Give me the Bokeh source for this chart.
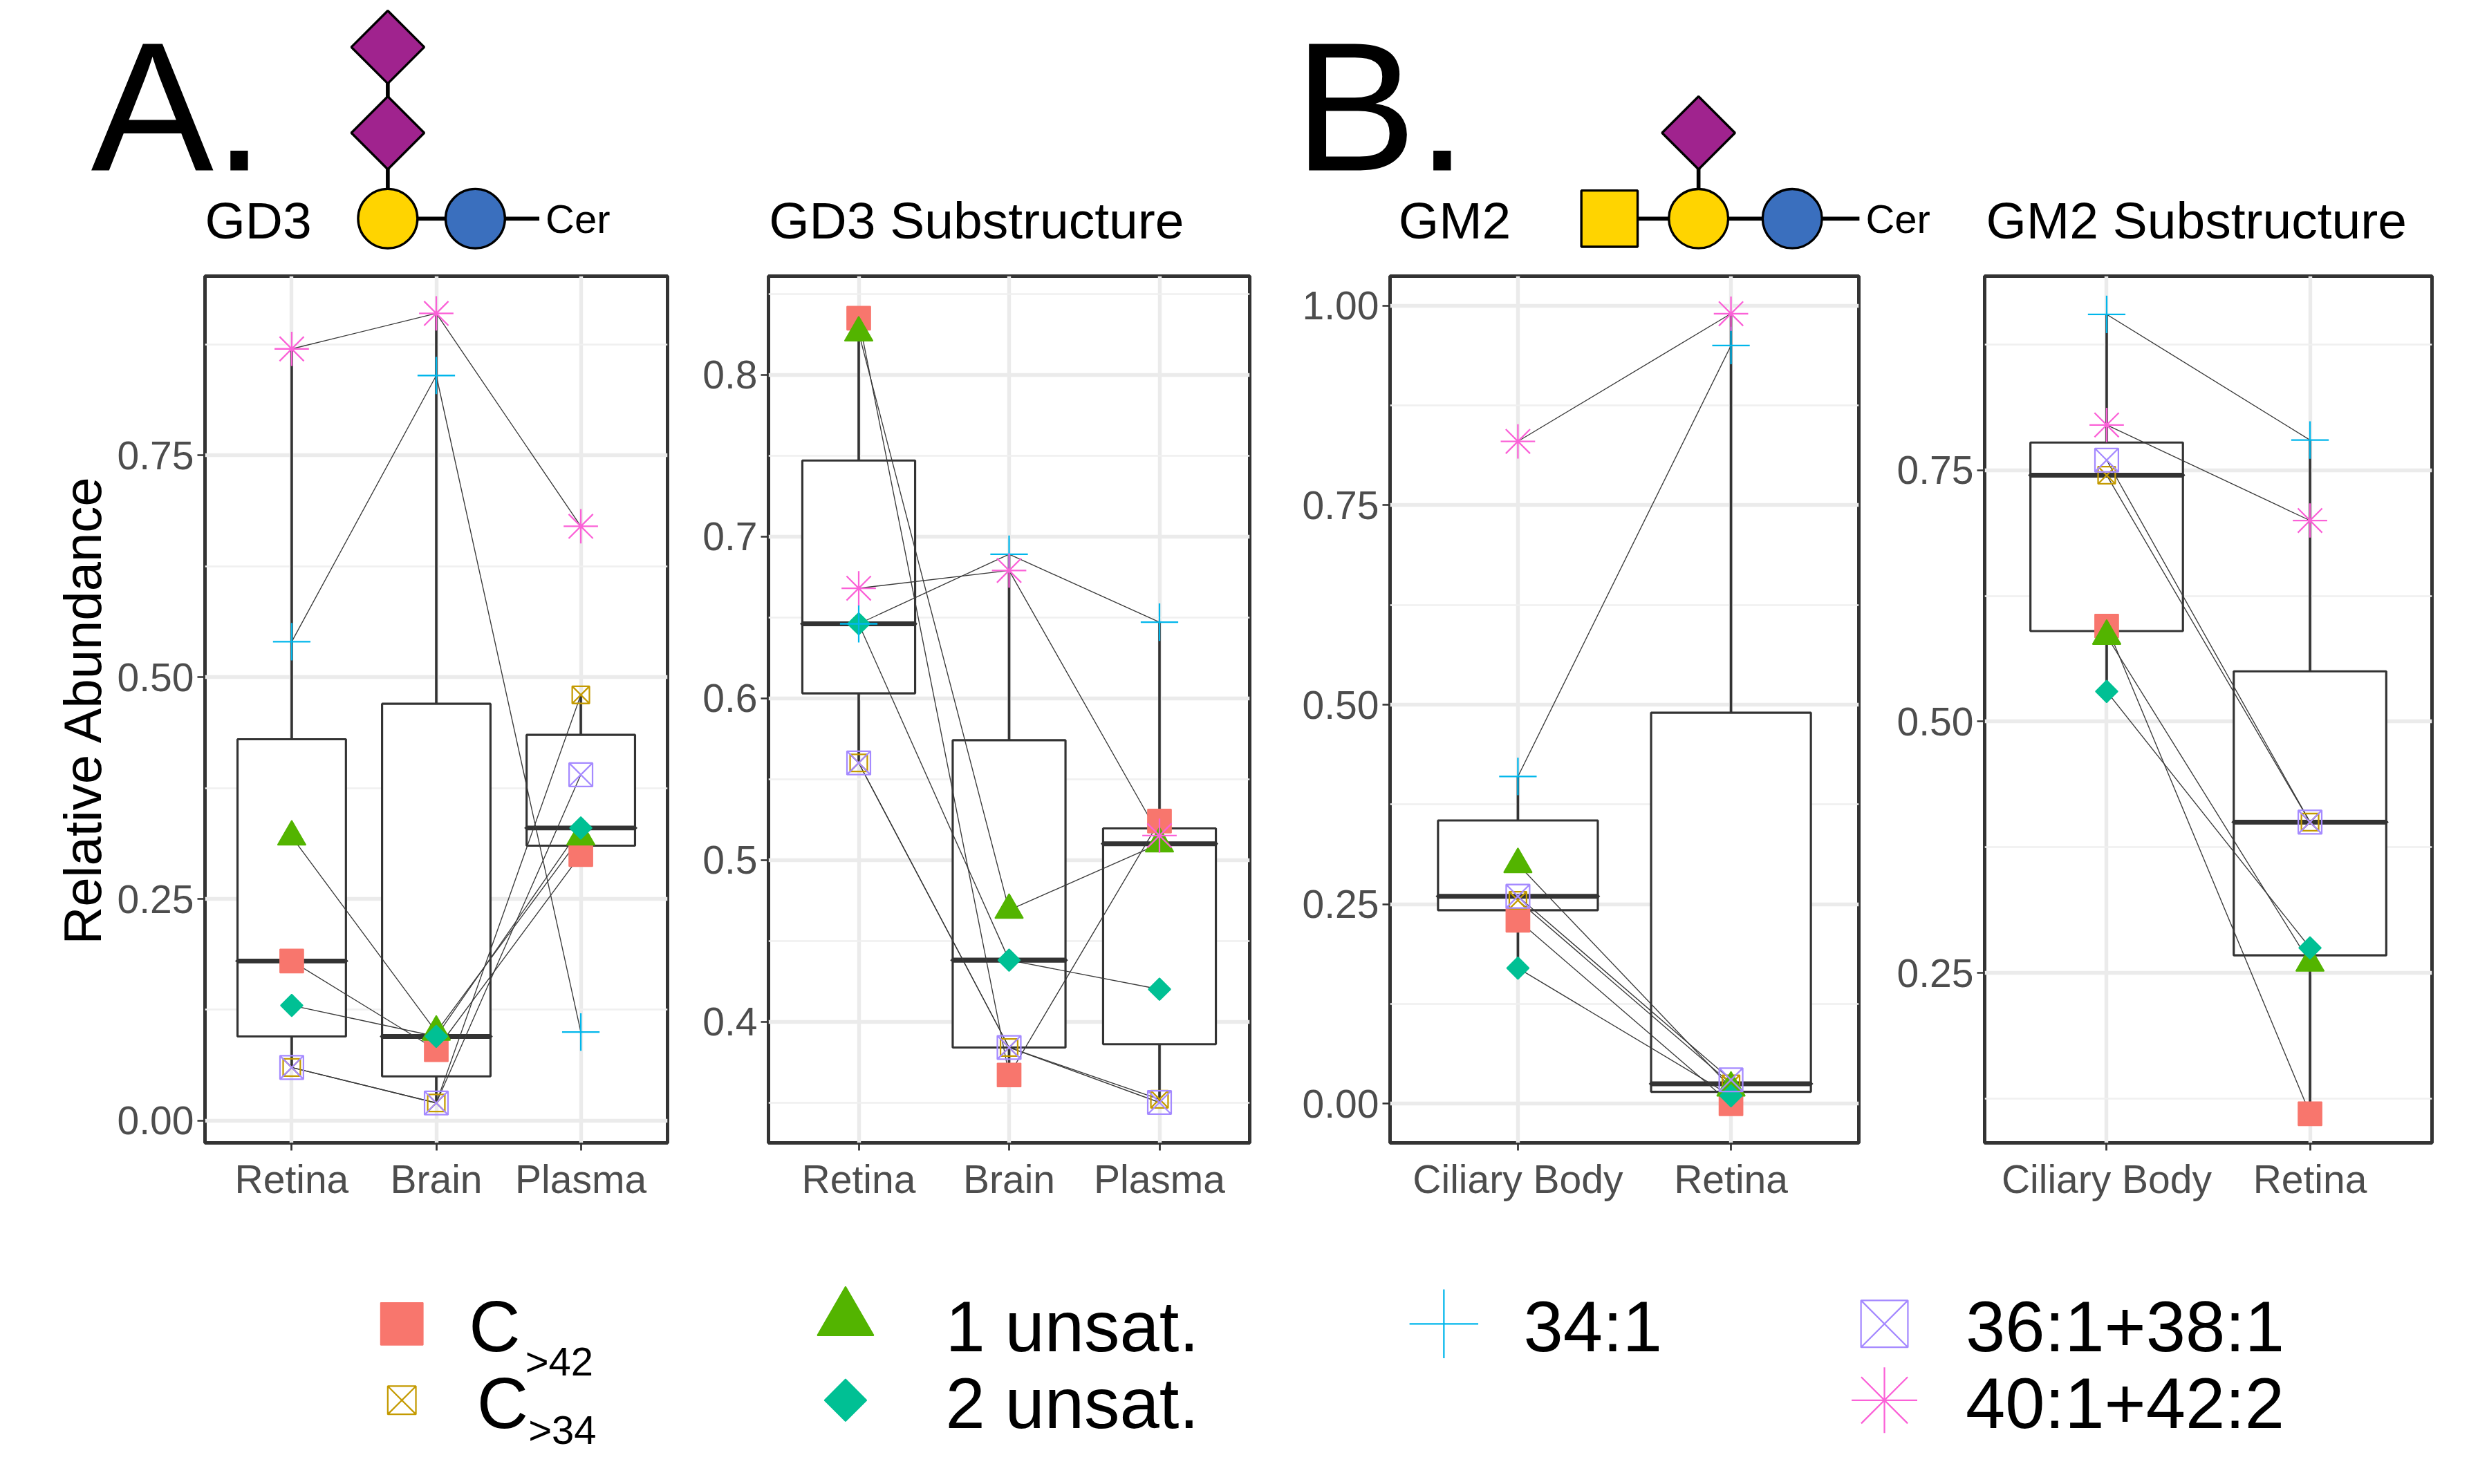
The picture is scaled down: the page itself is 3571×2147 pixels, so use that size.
import numpy as np

from bokeh.core.properties import value
from bokeh.embed import file_html
from bokeh.layouts import column, row
from bokeh.models import FactorRange, FixedTicker, Range1d
from bokeh.plotting import figure
from bokeh.resources import INLINE

S = 2.26  # reference px -> page px
FONT = "Liberation Sans"

# ---- data ----
series = ["C>42", "C>34", "1 unsat.", "2 unsat.", "34:1", "36:1+38:1", "40:1+42:2"]
colors = ["#F8766D", "#C49A00", "#53B400", "#00C094", "#00B6EB", "#A58AFF", "#FB61D7"]
markers = ["square", "square_x", "triangle", "square", "cross", "square_x", "asterisk"]
angles = [0, 0, 0, np.pi / 4, 0, 0, 0]
sizes = [15, 11, 18, 10, 24, 15, 22]

gd3_tissues = ["Retina", "Brain", "Plasma"]
gd3 = {
    "C>42": [0.18, 0.08, 0.30],
    "C>34": [0.06, 0.02, 0.48],
    "1 unsat.": [0.32, 0.10, 0.32],
    "2 unsat.": [0.13, 0.095, 0.33],
    "34:1": [0.54, 0.84, 0.10],
    "36:1+38:1": [0.06, 0.02, 0.39],
    "40:1+42:2": [0.87, 0.91, 0.67],
}
gd3_sub = {
    "C>42": [0.835, 0.367, 0.524],
    "C>34": [0.56, 0.384, 0.352],
    "1 unsat.": [0.826, 0.469, 0.51],
    "2 unsat.": [0.646, 0.438, 0.42],
    "34:1": [0.646, 0.689, 0.647],
    "36:1+38:1": [0.56, 0.384, 0.35],
    "40:1+42:2": [0.668, 0.679, 0.515],
}
gm2_tissues = ["Ciliary Body", "Retina"]
gm2 = {
    "C>42": [0.23, 0.0],
    "C>34": [0.255, 0.025],
    "1 unsat.": [0.30, 0.02],
    "2 unsat.": [0.17, 0.01],
    "34:1": [0.41, 0.95],
    "36:1+38:1": [0.26, 0.03],
    "40:1+42:2": [0.83, 0.99],
}
gm2_sub = {
    "C>42": [0.595, 0.11],
    "C>34": [0.745, 0.40],
    "1 unsat.": [0.585, 0.26],
    "2 unsat.": [0.53, 0.275],
    "34:1": [0.905, 0.78],
    "36:1+38:1": [0.76, 0.40],
    "40:1+42:2": [0.795, 0.70],
}


def box_stats(vals):
    v = np.array(vals)
    q1, med, q3 = np.percentile(v, [25, 50, 75])
    iqr = q3 - q1
    hi = v[v <= q3 + 1.5 * iqr].max()
    lo = v[v >= q1 - 1.5 * iqr].min()
    return q1, med, q3, lo, hi


def panel(tissues, data, yr, ticks, minor, width, left, right, ylabel=None):
    pad = 0.2 / len(tissues)
    p = figure(x_range=FactorRange(*tissues, range_padding=pad, range_padding_units="percent"),
               y_range=Range1d(*yr), width=int(width * S), height=int(618 * S),
               output_backend="svg", toolbar_location=None,
               min_border_left=int(left * S), min_border_right=int(right * S),
               min_border_top=int(5 * S), min_border_bottom=int(58 * S))
    p.outline_line_color = "#333333"
    p.outline_line_width = 2.2 * S
    p.background_fill_color = "white"
    p.yaxis.ticker = FixedTicker(ticks=ticks, minor_ticks=minor)
    for ax in (p.xaxis, p.yaxis):
        ax.axis_line_color = None
        ax.major_tick_line_color = "#333333"
        ax.major_tick_line_width = 1.2 * S
        ax.major_tick_out = int(5 * S)
        ax.major_tick_in = 0
        ax.minor_tick_line_color = None
        ax.major_label_text_font = FONT
        ax.major_label_text_font_size = f"{int(25.5 * S)}px"
        ax.major_label_text_color = "#4D4D4D"
    p.xaxis.major_label_standoff = int(4 * S)
    if ylabel:
        p.yaxis.axis_label = ylabel
        p.yaxis.axis_label_text_font = FONT
        p.yaxis.axis_label_text_font_style = "normal"
        p.yaxis.axis_label_text_font_size = f"{int(34 * S)}px"
        p.yaxis.axis_label_text_color = "black"
    p.xgrid.grid_line_color = "#EBEBEB"
    p.xgrid.grid_line_width = 2.4 * S
    p.ygrid.grid_line_color = "#EBEBEB"
    p.ygrid.grid_line_width = 2.4 * S
    p.ygrid.minor_grid_line_color = "#F0F0F0"
    p.ygrid.minor_grid_line_width = 1.2 * S

    stats = [box_stats([data[s][i] for s in series]) for i in range(len(tissues))]
    q1 = [st[0] for st in stats]
    med = [st[1] for st in stats]
    q3 = [st[2] for st in stats]
    lo = [st[3] for st in stats]
    hi = [st[4] for st in stats]
    p.segment(tissues, q3, tissues, hi, line_color="#333333", line_width=1.6 * S)
    p.segment(tissues, q1, tissues, lo, line_color="#333333", line_width=1.6 * S)
    p.vbar(x=tissues, bottom=q1, top=q3, width=0.75, fill_color="white",
           line_color="#333333", line_width=1.4 * S)
    p.rect(x=tissues, y=med, width=0.75, height=0.0001, line_color="#333333",
           line_width=3.0 * S, fill_color=None)

    for s in series:
        p.line(tissues, data[s], line_color="#3A3A3A", line_width=0.6 * S)
    for s, c, m, a, sz in zip(series, colors, markers, angles, sizes):
        filled = m in ("square", "triangle")
        p.scatter(tissues, data[s], marker=m, angle=a, size=sz * S,
                  fill_color=c if filled else None, line_color=c,
                  line_width=(0.8 if filled else 1.0) * S)
    return p


p1 = panel(gd3_tissues, gd3, (-0.025, 0.952), [0, 0.25, 0.5, 0.75],
           [0.125, 0.375, 0.625, 0.875], 432, 131, 5, "Relative Abundance")
p1.yaxis.major_label_overrides = {0: "0.00", 0.25: "0.25", 0.5: "0.50", 0.75: "0.75"}
p2 = panel(gd3_tissues, gd3_sub, (0.325, 0.861), [0.4, 0.5, 0.6, 0.7, 0.8],
           [0.35, 0.45, 0.55, 0.65, 0.75, 0.85], 373, 60, 5)
p3 = panel(gm2_tissues, gm2, (-0.049, 1.037), [0, 0.25, 0.5, 0.75, 1.0],
           [0.125, 0.375, 0.625, 0.875], 390, 85, 5)
p3.yaxis.major_label_overrides = {0: "0.00", 0.25: "0.25", 0.5: "0.50", 0.75: "0.75", 1: "1.00"}
p4 = panel(gm2_tissues, gm2_sub, (0.081, 0.943), [0.25, 0.5, 0.75],
           [0.125, 0.375, 0.625, 0.875], 373, 76, 11)
p4.yaxis.major_label_overrides = {0.25: "0.25", 0.5: "0.50", 0.75: "0.75"}


def blank(h, y0, y1):
    f = figure(width=int(1568 * S), height=int(h * S), x_range=Range1d(0, 1568),
               y_range=Range1d(y1, y0), output_backend="svg", toolbar_location=None,
               min_border=0)
    f.axis.visible = False
    f.grid.visible = False
    f.outline_line_color = None
    return f


# ---- header: panel letters, glycan cartoons, panel titles ----
h = blank(172, 0, 172)
tf = value(FONT)
h.text([58, 828], [68, 68], text=["A.", "B."], text_font=tf, text_font_size=f"{int(118 * S)}px",
       text_baseline="middle")
h.text([131, 492, 895, 1271], [141, 141, 141, 141],
       text=["GD3", "GD3 Substructure", "GM2", "GM2 Substructure"], text_font=tf,
       text_font_size=f"{int(33.5 * S)}px", text_baseline="middle")
purple, yellow, blue = "#A0238E", "#FFD400", "#3A6FBE"
# GD3
h.segment([248, 248, 304], [30, 85, 140], [248, 248, 345], [85, 140, 140], line_color="black", line_width=2.5 * S)
h.segment([248], [140], [304], [140], line_color="black", line_width=2.5 * S)
h.scatter([248, 248], [30, 85], marker="square", angle=np.pi / 4, size=33 * S,
          fill_color=purple, line_color="black", line_width=1.5 * S)
h.circle([248, 304], [140, 140], radius=19, fill_color=[yellow, blue], line_color="black", line_width=1.5 * S)
h.text([349], [140], text=["Cer"], text_font=tf, text_font_size=f"{int(26 * S)}px", text_baseline="middle")
# GM2
h.segment([1030, 1087, 1147], [140, 85, 140], [1147, 1087, 1190], [140, 140, 140], line_color="black", line_width=2.5 * S)
h.scatter([1087], [85], marker="square", angle=np.pi / 4, size=33 * S,
          fill_color=purple, line_color="black", line_width=1.5 * S)
h.scatter([1030], [140], marker="square", size=36 * S, fill_color=yellow, line_color="black", line_width=1.5 * S)
h.circle([1087, 1147], [140, 140], radius=19, fill_color=[yellow, blue], line_color="black", line_width=1.5 * S)
h.text([1194], [140], text=["Cer"], text_font=tf, text_font_size=f"{int(26 * S)}px", text_baseline="middle")

# ---- legend ----
lg = blank(145, 790, 935)
leg_x = [257, 257, 541, 541, 924, 1206, 1206]
leg_y = [848, 897, 845, 897, 848, 848, 897]
leg_sz = [27, 18, 36, 19, 44, 30, 42]
for s, c, m, a, sz, x, y in zip(series, colors, markers, angles, leg_sz, leg_x, leg_y):
    filled = m in ("square", "triangle")
    lg.scatter([x], [y], marker=m, angle=a, size=sz * S, fill_color=c if filled else None,
               line_color=c, line_width=(0.8 if filled else 1.0) * S)
big = f"{int(46 * S)}px"
lg.text([300, 305], [850, 899], text=["C", "C"], text_font=tf, text_font_size=big, text_baseline="middle")
lg.text([336, 338], [872, 916], text=[">42", ">34"], text_font=tf, text_font_size=f"{int(26 * S)}px",
        text_baseline="middle")
lg.text([605, 605, 975, 1258, 1258], [850, 899, 850, 850, 899],
        text=["1 unsat.", "2 unsat.", "34:1", "36:1+38:1", "40:1+42:2"],
        text_font=tf, text_font_size=big, text_baseline="middle")

layout = column(h, row(p1, p2, p3, p4), lg)
open("out.html", "w").write(file_html(layout, INLINE))
